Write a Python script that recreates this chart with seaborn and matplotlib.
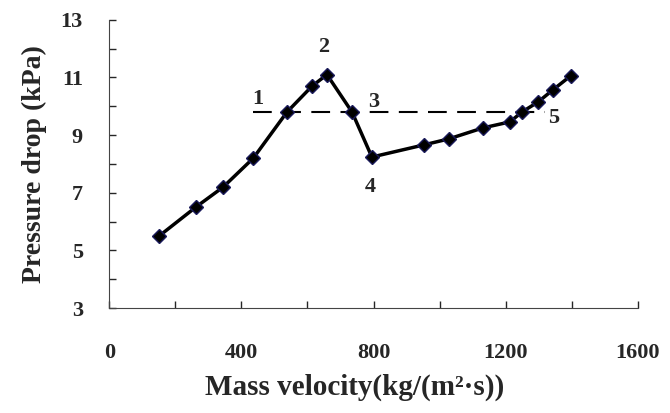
import numpy as np
import pandas as pd
import matplotlib
matplotlib.use("Agg")
import matplotlib.pyplot as plt
import seaborn as sns

# -----------------------------
# DATA
# -----------------------------
mass_velocity = [151, 263, 345, 436, 538, 614, 659, 735, 795,
                 952, 1028, 1131, 1213, 1249, 1298, 1343, 1397]
pressure_drop = [5.5, 6.51, 7.2, 8.2, 9.8, 10.7, 11.1, 9.8, 8.24,
                 8.66, 8.87, 9.25, 9.46, 9.8, 10.15, 10.57, 11.06]

ref_level = 9.8
ref_start, ref_end = 436, 1320

point_labels = ["1", "2", "3", "4", "5"]
label_x = [450, 650, 800, 790, 1345]
label_y = [10.25, 12.05, 10.15, 7.2, 9.6]

df = pd.DataFrame({"G": mass_velocity, "dP": pressure_drop})

# -----------------------------
# STYLE
# -----------------------------
sns.set_style("ticks")
plt.rcParams['font.family'] = ['Liberation Serif', 'DejaVu Serif']
plt.rcParams['font.weight'] = 'bold'

fig = plt.figure(figsize=(6.7, 4.13), dpi=100)
ax = fig.add_axes([0.163, 0.254, 0.789, 0.698])

# reference dashed line
ax.plot([ref_start, ref_end], [ref_level, ref_level], color="black",
        linestyle=(0, (9, 5)), linewidth=1.5, zorder=1)

sns.lineplot(data=df, x="G", y="dP", ax=ax, color="black", linewidth=2.5,
             marker="D", markersize=7, markerfacecolor="black",
             markeredgecolor="#1a1a5a", markeredgewidth=1, zorder=3)

for t, lx, ly in zip(point_labels, label_x, label_y):
    ax.text(lx, ly, t, fontsize=16, fontweight='bold', ha='center', va='center')

ax.set_xlim(0, 1600)
ax.set_ylim(3, 13)
ax.set_xticks(np.arange(0, 1601, 400))
ax.set_xticks(np.arange(0, 1601, 200), minor=True)
ax.set_yticks(np.arange(3, 14, 2))
ax.set_yticks(np.arange(3, 14, 1), minor=True)
ax.tick_params(axis='both', which='both', direction='in', length=5, width=1,
               labelsize=16)
ax.tick_params(axis='x', which='major', pad=25)
ax.tick_params(axis='y', which='major', pad=19)
for lab in ax.get_xticklabels() + ax.get_yticklabels():
    lab.set_fontweight('bold')

ax.spines['top'].set_visible(False)
ax.spines['right'].set_visible(False)
ax.spines['left'].set_color('#444444')
ax.spines['bottom'].set_color('#444444')

ax.set_xlabel("Mass velocity(kg/(m²·s))", fontsize=21, fontweight='bold')
ax.xaxis.set_label_coords(0.465, -0.228)
ax.set_ylabel("Pressure drop (kPa)", fontsize=20, fontweight='bold', labelpad=10)

fig.savefig("out.png", dpi=100)
